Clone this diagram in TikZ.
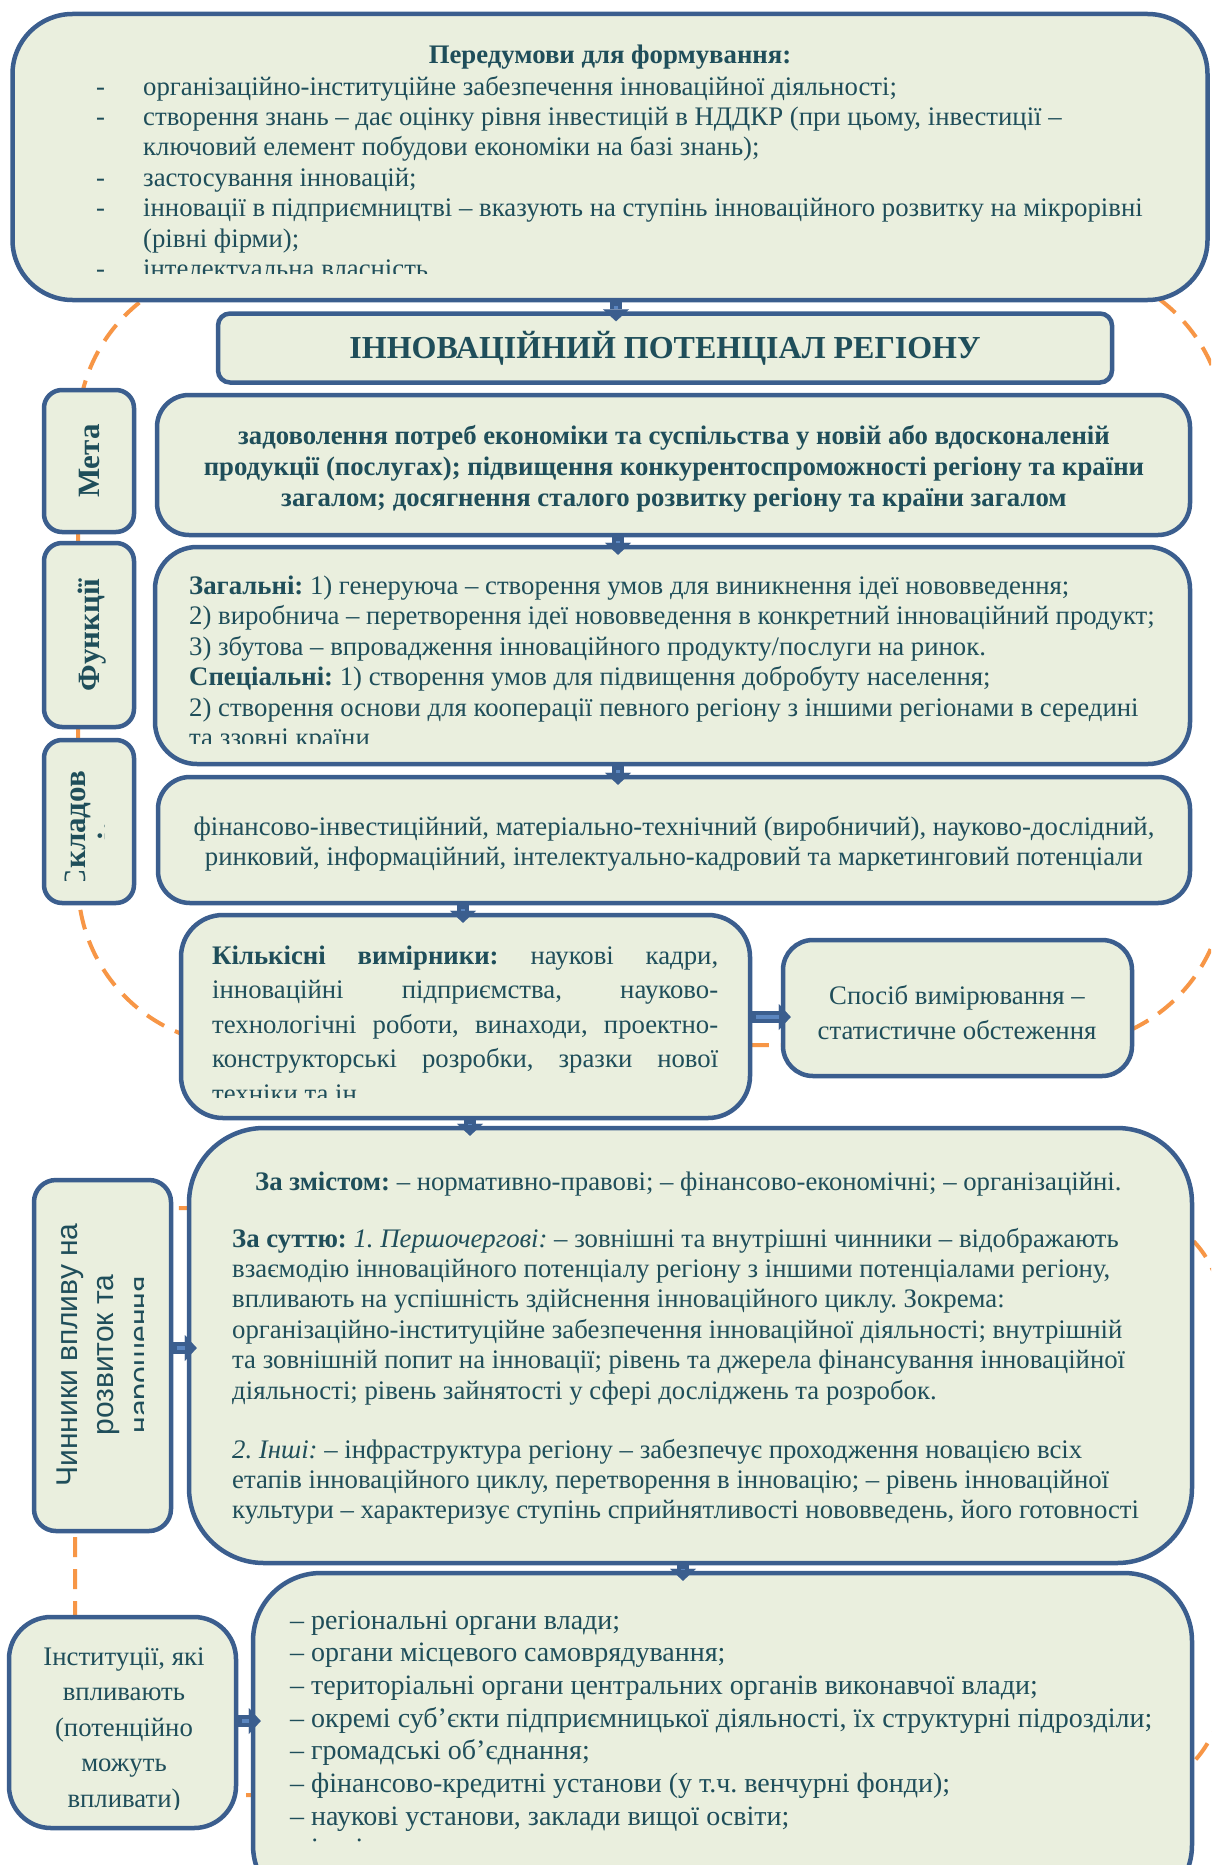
\documentclass[tikz,border=0pt]{standalone}
\usepackage{fontspec}
\setmainfont{Liberation Serif}
\newfontfamily\tagsans{Liberation Sans}
\usetikzlibrary{arrows.meta}
\definecolor{boxfill}{HTML}{EAEFDE}
\definecolor{boxline}{HTML}{3B5E8E}
\definecolor{inkteal}{HTML}{1F4E5A}
\definecolor{loopline}{HTML}{F79646}
\definecolor{pipefill}{HTML}{5B86C0}
\newcommand\txtsize[1]{\fontsize{26.75}{#1}\selectfont}
\frenchspacing
\tikzset{
	panel/.style={draw=boxline, line width=4.5pt, fill=boxfill, inner sep=0pt},
	tagbox/.style={panel, rounded corners=18pt, minimum width=90pt},
	ink/.style={text=inkteal, inner sep=0pt},
	tagword/.style={ink, rotate=90, anchor=base, font=\fontsize{31}{34}\selectfont\bfseries},
	pipe/.style={draw=boxline, line width=12pt, -{Triangle[length=12pt,width=26pt,line width=0.1pt]}, shorten >=-10pt, shorten <=-2pt,
		postaction={draw=pipefill, line width=4pt, -, shorten >=2pt, shorten <=4pt}},
	loopdash/.style={draw=loopline, line width=4pt, dash pattern=on 20pt off 12pt}
}

\begin{document}
\frenchspacing
\begin{tikzpicture}[x=1pt, y=-1pt]
	\path[use as bounding box, fill=white] (0,0) rectangle (1211,1865);
	\clip (0,0) rectangle (1211,1865);

	\draw[loopdash, rounded corners=163pt] (78,267) rectangle (1225,1045);
	\draw[loopdash, rounded corners=105pt] (75,1208) rectangle (1222,1795);

	\node (prereq)[panel, rounded corners=60pt, minimum width=1195pt, minimum height=286pt] at (610,157) {};
	\node (potential)[panel, rounded corners=12pt, minimum width=894pt, minimum height=69pt, text=inkteal, font=\fontsize{32}{36}\selectfont\bfseries] at (665,348) {ІННОВАЦІЙНИЙ ПОТЕНЦІАЛ РЕГІОНУ};
	\node (metatag)[tagbox, minimum height=142pt] at (89,461) {};
	\node (metabox)[panel, rounded corners=32pt, minimum width=1033pt, minimum height=140pt] at (673.5,465) {};
	\node (functag)[tagbox, minimum height=184pt] at (89,635) {};
	\node (funcbox)[panel, rounded corners=42pt, minimum width=1035pt, minimum height=217pt] at (672.5,655.5) {};
	\node (comptag)[tagbox, minimum height=163pt] at (89,821.5) {};
	\node (compbox)[panel, rounded corners=32pt, minimum width=1032pt, minimum height=126pt] at (674,840) {};
	\node (countbox)[panel, rounded corners=42pt, minimum width=569pt, minimum height=203pt] at (465.5,1016.5) {};
	\node (methodbox)[panel, rounded corners=30pt, minimum width=349pt, minimum height=136pt] at (957.5,1008) {};
	\node (factortag)[panel, rounded corners=22pt, minimum width=137pt, minimum height=351pt] at (102.5,1355.5) {};
	\node (factorbox)[panel, rounded corners=75pt, minimum width=1003pt, minimum height=435pt] at (690.5,1345.5) {};
	\node (insttag)[panel, rounded corners=42pt, minimum width=227pt, minimum height=211pt] at (122.5,1722.5) {};
	\node (instbox)[panel, rounded corners=68pt, minimum width=939pt, minimum height=340pt] at (722.5,1743) {};

	\node (prereqhead)[ink, anchor=base, font=\txtsize{30}\bfseries] at (610,64) {Передумови для формування:};
	\begin{scope}
		\clip (20,20) rectangle (1200,273);
		\node (prereqlist)[ink, anchor=base west, align=left, font=\txtsize{30.4}] at (96,277.4) {\makebox[47pt][l]{-}організаційно-інституційне забезпечення інноваційної діяльності;\\
			\makebox[47pt][l]{-}створення знань – дає оцінку рівня інвестицій в НДДКР (при цьому, інвестиції –\\
			\hspace*{47pt}ключовий елемент побудови економіки на базі знань);\\
			\makebox[47pt][l]{-}застосування інновацій;\\
			\makebox[47pt][l]{-}інновації в підприємництві – вказують на ступінь інноваційного розвитку на мікрорівні\\
			\hspace*{47pt}(рівні фірми);\\
			\makebox[47pt][l]{-}інтелектуальна власність};
	\end{scope}

	\node (metaword)[tagword] at (99,461) {Мета};
	\node (metatext)[ink, anchor=base, align=center, font=\txtsize{31}\bfseries] at (674,506) {задоволення потреб економіки та суспільства у новій або вдосконаленій\\
		продукції (послугах); підвищення конкурентоспроможності регіону та країни\\
		загалом; досягнення сталого розвитку регіону та країни загалом};

	\node (funcword)[tagword] at (99,635) {Функції};
	\begin{scope}
		\clip (170,560) rectangle (1180,743);
		\node (functext)[ink, anchor=base west, align=left, font=\txtsize{30.5}] at (189,746.5) {\textbf{Загальні:} 1) генеруюча – створення умов для виникнення ідеї нововведення;\\
			2) виробнича – перетворення ідеї нововведення в конкретний інноваційний продукт;\\
			3) збутова – впровадження інноваційного продукту/послуги на ринок.\\
			\textbf{Спеціальні:} 1) створення умов для підвищення добробуту населення;\\
			2) створення основи для кооперації певного регіону з іншими регіонами в середині\\
			та ззовні країни};
	\end{scope}

	\begin{scope}
		\clip (48,745) rectangle (104,880);
		\node (compword)[tagword, align=center] at (119,831) {Складов\\і:};
	\end{scope}
	\node (comptext)[ink, anchor=base, align=center, font=\txtsize{30}] at (674,865) {фінансово-інвестиційний, матеріально-технічний (виробничий), науково-дослідний,\\
		ринковий, інформаційний, інтелектуально-кадровий та маркетинговий потенціали};

	\begin{scope}
		\clip (195,925) rectangle (735,1097);
		\node (counttext)[ink, anchor=base west, align=left, font=\txtsize{34.5}] at (212,1102) {\makebox[506pt][s]{\textbf{Кількісні вимірники:} наукові кадри,}\\
			\makebox[506pt][s]{інноваційні підприємства, науково-}\\
			\makebox[506pt][s]{технологічні роботи, винаходи, проектно-}\\
			\makebox[506pt][s]{конструкторські розробки, зразки нової}\\
			техніки та ін.};
	\end{scope}
	\node (methodtext)[ink, anchor=base, align=center, font=\txtsize{35}] at (957,1039) {Спосіб вимірювання –\\статистичне обстеження};

	\begin{scope}
		\clip (40,1188) rectangle (143,1524);
		\node (factorword)[ink, rotate=90, anchor=base, align=center, font=\tagsans\fontsize{30}{36.5}\selectfont] at (150,1355) {Чинники впливу на\\розвиток та\\нарощення};
	\end{scope}
	\node (factortext)[ink, anchor=base west, align=left, font=\txtsize{30.4}] at (232,1518.8) {\hspace*{23pt}\textbf{За змістом:} – нормативно-правові; – фінансово-економічні; – організаційні.\\[26.6pt]
		\textbf{За суттю:} \textit{1. Першочергові:} – зовнішні та внутрішні чинники – відображають\\
		взаємодію інноваційного потенціалу регіону з іншими потенціалами регіону,\\
		впливають на успішність здійснення інноваційного циклу. Зокрема:\\
		організаційно-інституційне забезпечення інноваційної діяльності; внутрішній\\
		та зовнішній попит на інновації; рівень та джерела фінансування інноваційної\\
		діяльності; рівень зайнятості у сфері досліджень та розробок.\\[28.6pt]
		\textit{2. Інші:} – інфраструктура регіону – забезпечує проходження новацією всіх\\
		етапів інноваційного циклу, перетворення в інновацію; – рівень інноваційної\\
		культури – характеризує ступінь сприйнятливості нововведень, його готовності};

	\begin{scope}
		\clip (15,1625) rectangle (230,1809);
		\node (insttext)[ink, anchor=base, align=center, font=\txtsize{35.5}] at (124,1807) {Інституції, які\\впливають\\(потенційно\\можуть\\впливати)};
	\end{scope}
	\begin{scope}
		\clip (265,1590) rectangle (1180,1843);
		\node (instlist)[ink, anchor=base west, align=left, font=\fontsize{28}{32.7}\selectfont] at (290,1857.9) {– регіональні органи влади;\\
			– органи місцевого самоврядування;\\
			– територіальні органи центральних органів виконавчої влади;\\
			– окремі суб’єкти підприємницької діяльності, їх структурні підрозділи;\\
			– громадські об’єднання;\\
			– фінансово-кредитні установи (у т.ч. венчурні фонди);\\
			– наукові установи, заклади вищої освіти;\\
			– інші.};
	\end{scope}

	\draw[pipe] (prereq.south -| 616,0) -- (potential.north -| 616,0);
	\draw[pipe] (metabox.south -| 618,0) -- (funcbox.north -| 618,0);
	\draw[pipe] (funcbox.south -| 618,0) -- (compbox.north -| 618,0);
	\draw[pipe] (compbox.south -| 463,0) -- (countbox.north -| 463,0);
	\draw[pipe] (countbox.south -| 470,0) -- (factorbox.north -| 470,0);
	\draw[pipe] (factorbox.south -| 683,0) -- (instbox.north -| 683,0);
	\draw[pipe] (countbox.east |- 0,1017) -- (methodbox.west |- 0,1017);
	\draw[pipe] (factortag.east |- 0,1348) -- (factorbox.west |- 0,1348);
	\draw[pipe] (insttag.east |- 0,1721) -- (instbox.west |- 0,1721);
\end{tikzpicture}
\end{document}
